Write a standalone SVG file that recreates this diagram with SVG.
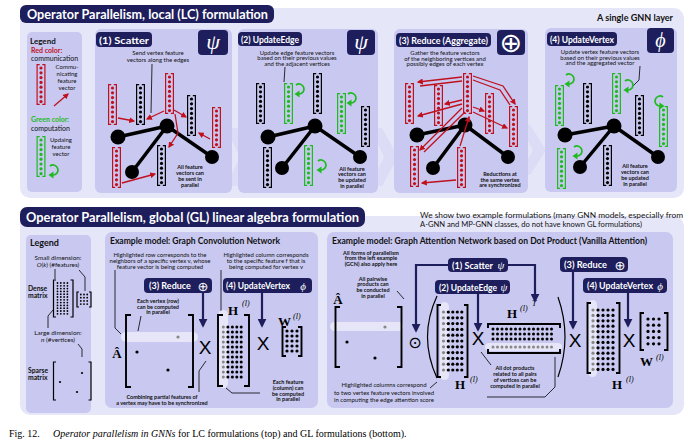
<svg xmlns="http://www.w3.org/2000/svg" width="690" height="447" viewBox="0 0 690 447">
<style>
text{font-family:Lato,"Open Sans","Liberation Sans",sans-serif}
.outer{fill:#e6e6f9}
.panel{fill:#c8c8f0}
.navy{fill:#1e1e5c}
.chev{fill:#dcdcf7}
.ht{font-weight:bold;font-size:13px;fill:#fff}
.lt{font-weight:bold;font-size:9.5px;fill:#fff}
.lt2{font-weight:bold;font-size:9px;fill:#fff}
.d{font-size:6px;fill:#111;text-anchor:middle}
.b{font-size:5.5px;font-weight:bold;fill:#111;text-anchor:middle}
.lg{font-size:6.4px;fill:#111}
.edge{stroke:#000;stroke-width:3.5;stroke-linecap:round}
.ra{fill:none;stroke:#c0101e;stroke-width:1.3;marker-end:url(#ar)}
.rl{fill:none;stroke:#c0101e;stroke-width:1.3}
.ln{fill:none;stroke:#000;stroke-width:0.8}
.na{fill:none;stroke:#1e1e5c;stroke-width:2.2;marker-end:url(#an)}
.br{fill:none;stroke:#000;stroke-width:1.9}
.brs{fill:none;stroke:#000;stroke-width:1.2}
.m{font-family:"Liberation Serif","DejaVu Serif",serif;font-weight:bold;font-size:13px;fill:#000}
.sup{font-family:"Liberation Serif","DejaVu Serif",serif;font-style:italic;font-size:8px;fill:#000}
.X{font-family:"Liberation Sans",sans-serif;font-size:19px;text-anchor:middle;fill:#000}
.hl{fill:#fff;fill-opacity:0.55}
.sym{font-family:"DejaVu Sans",sans-serif;fill:#fff;text-anchor:middle}
.gr{font-family:"Liberation Serif","DejaVu Serif",serif;font-style:italic;fill:#fff;text-anchor:middle}
.cap{font-family:"Liberation Serif",serif;font-size:10px;fill:#000}
</style>
<defs>
<marker id="ar" viewBox="0 0 10 10" refX="8" refY="5" markerWidth="6" markerHeight="6" markerUnits="userSpaceOnUse" orient="auto"><path d="M0,0L10,5L0,10z" fill="#c0101e"/></marker>
<marker id="an" viewBox="0 0 10 10" refX="8" refY="5" markerWidth="9" markerHeight="9" markerUnits="userSpaceOnUse" orient="auto"><path d="M0,0L10,5L0,10z" fill="#1e1e5c"/></marker>
<g id="v"><path d="M3.2,0.6H0.6V40.4H3.2M5.8,0.6H8.4V40.4H5.8" fill="none" stroke="currentColor" stroke-width="1.2"/><g fill="currentColor"><circle cx="4.5" cy="4" r="1.6"/><circle cx="4.5" cy="8.8" r="1.6"/><circle cx="4.5" cy="13.6" r="1.6"/><circle cx="4.5" cy="18.4" r="1.6"/><circle cx="4.5" cy="23.2" r="1.6"/><circle cx="4.5" cy="28" r="1.6"/><circle cx="4.5" cy="32.8" r="1.6"/><circle cx="4.5" cy="37.6" r="1.6"/></g></g>
<g id="loop"><path d="M-3,-4A5,5 0 1 1 0,5" fill="none" stroke="currentColor" stroke-width="1.7"/><path d="M-4.5,5L0.5,1.5V8.5Z" fill="currentColor"/></g>
<g id="c11" fill="currentColor"><circle cy="0" r="1.5"/><circle cy="5" r="1.5"/><circle cy="10" r="1.5"/><circle cy="15" r="1.5"/><circle cy="20" r="1.5"/><circle cy="25" r="1.5"/><circle cy="30" r="1.5"/><circle cy="35" r="1.5"/><circle cy="40" r="1.5"/><circle cy="45" r="1.5"/><circle cy="50" r="1.5"/></g>
<g id="c11b" fill="currentColor"><circle cy="0" r="1.6"/><circle cy="5.8" r="1.6"/><circle cy="11.6" r="1.6"/><circle cy="17.4" r="1.6"/><circle cy="23.2" r="1.6"/><circle cy="29" r="1.6"/><circle cy="34.8" r="1.6"/><circle cy="40.6" r="1.6"/><circle cy="46.4" r="1.6"/><circle cy="52.2" r="1.6"/><circle cy="58" r="1.6"/></g>
<g id="c12" fill="currentColor"><circle cy="0" r="1.6"/><circle cy="5.4" r="1.6"/><circle cy="10.8" r="1.6"/><circle cy="16.2" r="1.6"/><circle cy="21.6" r="1.6"/><circle cy="27" r="1.6"/><circle cy="32.4" r="1.6"/><circle cy="37.8" r="1.6"/><circle cy="43.2" r="1.6"/><circle cy="48.6" r="1.6"/><circle cy="54" r="1.6"/><circle cy="59.4" r="1.6"/></g>
<g id="c12s" fill="#000"><circle cy="0" r="0.9"/><circle cy="2.8" r="0.9"/><circle cy="5.6" r="0.9"/><circle cy="8.4" r="0.9"/><circle cy="11.2" r="0.9"/><circle cy="14" r="0.9"/><circle cy="16.8" r="0.9"/><circle cy="19.6" r="0.9"/><circle cy="22.4" r="0.9"/><circle cy="25.2" r="0.9"/><circle cy="28" r="0.9"/><circle cy="30.8" r="0.9"/></g>
<g id="c4s" fill="#000"><circle cy="0" r="0.9"/><circle cy="3.2" r="0.9"/><circle cy="6.4" r="0.9"/><circle cy="9.6" r="0.9"/></g>
<g id="c5" fill="#000"><circle cy="0" r="1.6"/><circle cy="5" r="1.6"/><circle cy="10" r="1.6"/><circle cy="15" r="1.6"/><circle cy="20" r="1.6"/></g>
<g id="c5b" fill="#000"><circle cy="0" r="1.6"/><circle cy="6.2" r="1.6"/><circle cy="12.4" r="1.6"/><circle cy="18.6" r="1.6"/><circle cy="24.8" r="1.6"/></g>
<g id="r14" fill="currentColor"><circle cx="0" r="1.5"/><circle cx="4.5" r="1.5"/><circle cx="9" r="1.5"/><circle cx="13.5" r="1.5"/><circle cx="18" r="1.5"/><circle cx="22.5" r="1.5"/><circle cx="27" r="1.5"/><circle cx="31.5" r="1.5"/><circle cx="36" r="1.5"/><circle cx="40.5" r="1.5"/><circle cx="45" r="1.5"/><circle cx="49.5" r="1.5"/><circle cx="54" r="1.5"/><circle cx="58.5" r="1.5"/></g>
</defs>

<!-- ===== TOP SECTION ===== -->
<g id="top-section">
<rect class="outer" x="20" y="8" width="664" height="190" rx="10"/>
<rect class="navy" x="20" y="5" width="254" height="18" rx="6"/>
<text class="ht" x="27" y="19" textLength="241" lengthAdjust="spacingAndGlyphs">Operator Parallelism, local (LC) formulation</text>
<text x="673" y="21" font-size="8.5" font-weight="bold" fill="#111" text-anchor="end" textLength="76" lengthAdjust="spacingAndGlyphs">A single GNN layer</text>
</g>

<g id="legend-lc">
<rect class="panel" x="27" y="32" width="55" height="160" rx="5"/>
<text x="30" y="44" font-size="8" font-weight="bold" fill="#111">Legend</text>
<text x="31" y="53" font-size="7" font-weight="bold" fill="#c0101e">Red color:</text>
<text x="31" y="60.5" font-size="7" fill="#111">communication</text>
<use href="#v" x="36.5" y="64" color="#c0101e"/>
<text class="d" x="67" y="69">Commu-</text>
<text class="d" x="67" y="76">nicating</text>
<text class="d" x="67" y="83">feature</text>
<text class="d" x="67" y="90">vector</text>
<path class="ra" d="M54,106L68,94"/>
<text x="31" y="122" font-size="7" font-weight="bold" fill="#1fba1f">Green color:</text>
<text x="31" y="130.5" font-size="7" fill="#111">computation</text>
<use href="#v" x="36.5" y="136" color="#1fba1f"/>
<text class="d" x="61" y="142">Updaing</text>
<text class="d" x="61" y="149">feature</text>
<text class="d" x="61" y="156">vector</text>
<use href="#loop" x="53" y="170" color="#1fba1f"/>
</g>

<g id="chevrons">
<polygon class="chev" points="226,128 238,128 254,157 238,186 226,186 240,157"/>
<polygon class="chev" points="370,128 382,128 398,157 382,186 370,186 384,157"/>
<polygon class="chev" points="519,125 530,125 546,150 530,175 519,175 533,150"/>
</g>

<!-- Panel 1 Scatter -->
<g id="p1-scatter">
<rect class="panel" x="95" y="29" width="137" height="164" rx="6"/>
<rect class="navy" x="96" y="32" width="56" height="15" rx="4"/>
<text class="lt" x="99" y="43.5" textLength="50" lengthAdjust="spacingAndGlyphs">(1) Scatter</text>
<rect class="navy" x="198" y="30" width="30" height="25" rx="4"/>
<text class="gr" x="213" y="49" font-size="22">ψ</text>
<text class="d" x="158" y="55.3">Send vertex feature</text>
<text class="d" x="158" y="61.5">vectors along the edges</text>
<path class="ln" d="M152,64L151,113"/>
<line class="edge" x1="118" y1="137" x2="167" y2="126"/>
<line class="edge" x1="167" y1="126" x2="132" y2="172"/>
<line class="edge" x1="167" y1="126" x2="212" y2="157"/>
<circle cx="118" cy="137" r="7.5"/><circle cx="167" cy="126" r="7.5"/><circle cx="132" cy="172" r="7"/><circle cx="212" cy="157" r="7"/>
<use href="#v" x="108" y="84" color="#c0101e"/>
<use href="#v" x="136" y="84" color="#000"/>
<use href="#v" x="165" y="73" color="#c0101e"/>
<use href="#v" x="187" y="95" color="#000"/>
<use href="#v" x="212" y="107" color="#c0101e"/>
<use href="#v" x="112" y="147" color="#c0101e"/>
<use href="#v" x="157" y="145" color="#000"/>
<path class="ra" d="M118,118L134,121"/>
<path class="ra" d="M164,111L147,119"/>
<path class="ra" d="M174,110L186,117"/>
<path class="ra" d="M175,114L178,133L169,147"/>
<path class="ra" d="M210,139L199,133"/>
<path class="ra" d="M122,183L155,174"/>
<text class="b" x="190" y="168.8">All feature</text>
<text class="b" x="190" y="174.8">vectors can</text>
<text class="b" x="190" y="180.8">be sent in</text>
<text class="b" x="190" y="186.8">parallel</text>
</g>

<!-- Panel 2 UpdateEdge -->
<g id="p2-updateedge">
<rect class="panel" x="238" y="29" width="140" height="164" rx="6"/>
<rect class="navy" x="238" y="32" width="64" height="14" rx="4"/>
<text class="lt" x="241" y="43" textLength="58" lengthAdjust="spacingAndGlyphs">(2) UpdateEdge</text>
<rect class="navy" x="347" y="30" width="28" height="25" rx="4"/>
<text class="gr" x="361" y="49" font-size="22">ψ</text>
<text class="d" x="297" y="54.5">Update edge feature vectors</text>
<text class="d" x="297" y="60">based on their previous values</text>
<text class="d" x="297" y="65.5">and the adjacent vertices</text>
<path class="ln" d="M285,67L284,82"/>
<line class="edge" x1="268" y1="137" x2="315" y2="126"/>
<line class="edge" x1="315" y1="126" x2="282" y2="168"/>
<line class="edge" x1="315" y1="126" x2="360" y2="157"/>
<circle cx="268" cy="137" r="7.5"/><circle cx="315" cy="126" r="7.5"/><circle cx="282" cy="168" r="7"/><circle cx="360" cy="157" r="7"/>
<use href="#v" x="256" y="83" color="#000"/>
<use href="#v" x="284" y="83" color="#1fba1f"/>
<use href="#v" x="313" y="73" color="#000"/>
<use href="#v" x="337" y="93" color="#1fba1f"/>
<use href="#v" x="361" y="106" color="#000"/>
<use href="#v" x="263" y="147" color="#000"/>
<use href="#v" x="304" y="145" color="#1fba1f"/>
<use href="#loop" x="299" y="89" color="#1fba1f"/>
<use href="#loop" x="351" y="98" color="#1fba1f"/>
<use href="#loop" x="321" y="165" color="#1fba1f"/>
<text class="b" x="352" y="170.5">All feature</text>
<text class="b" x="352" y="176.3">vectors can</text>
<text class="b" x="352" y="182.1">be updated</text>
<text class="b" x="352" y="188">in parallel</text>
</g>

<!-- Panel 3 Reduce -->
<g id="p3-reduce">
<rect class="panel" x="394" y="29" width="134" height="164" rx="6"/>
<rect class="navy" x="396" y="33" width="95" height="14" rx="4"/>
<text class="lt" x="399" y="44" textLength="89" lengthAdjust="spacingAndGlyphs">(3) Reduce (Aggregate)</text>
<rect class="navy" x="497" y="30" width="28" height="25" rx="4"/>
<text class="sym" x="511" y="51.5" font-size="27">⊕</text>
<text class="d" x="445" y="55">Gather the feature vectors</text>
<text class="d" x="445" y="60.5">of the neighboring vertices and</text>
<text class="d" x="445" y="66">possibly edges of each vertex</text>
<line class="edge" x1="417" y1="135" x2="465" y2="125"/>
<line class="edge" x1="465" y1="125" x2="433" y2="168"/>
<line class="edge" x1="465" y1="125" x2="508" y2="157"/>
<circle cx="417" cy="135" r="7.5"/><circle cx="465" cy="125" r="7.5"/><circle cx="433" cy="168" r="7"/><circle cx="508" cy="157" r="7"/>
<use href="#v" x="405" y="83" color="#c0101e"/>
<use href="#v" x="434" y="85" color="#c0101e"/>
<use href="#v" x="463" y="73" color="#c0101e"/>
<use href="#v" x="485" y="93" color="#c0101e"/>
<use href="#v" x="509" y="106" color="#c0101e"/>
<use href="#v" x="410" y="146" color="#c0101e"/>
<use href="#v" x="457" y="147" color="#c0101e"/>
<path class="ra" d="M462,77L418,82"/>
<path class="rl" d="M462,81L420,86"/>
<path class="ra" d="M473,76L503,86L515,104"/>
<path class="rl" d="M473,80L500,90L510,105"/>
<path class="ra" d="M462,100L445,104"/>
<path class="ra" d="M462,104L418,116"/>
<path class="ra" d="M462,108L420,150"/>
<path class="rl" d="M465,112L424,152"/>
<path class="ra" d="M473,107L484,111"/>
<path class="ra" d="M473,112L507,128"/>
<path class="ra" d="M460,146L469,117"/>
<path class="ra" d="M456,180L422,183"/>
<text class="b" x="500" y="176">Reductions at</text>
<text class="b" x="500" y="181.5">the same vertex</text>
<text class="b" x="500" y="187">are synchronized</text>
</g>

<!-- Panel 4 UpdateVertex -->
<g id="p4-updatevertex">
<rect class="panel" x="545" y="28" width="132" height="164" rx="6"/>
<rect class="navy" x="547" y="32" width="70" height="14" rx="4"/>
<text class="lt" x="550" y="43" textLength="64" lengthAdjust="spacingAndGlyphs">(4) UpdateVertex</text>
<rect class="navy" x="647" y="28" width="27" height="25" rx="4"/>
<text class="gr" x="660.5" y="47" font-size="20">ϕ</text>
<text class="d" x="600" y="54">Update vertex feature vectors</text>
<text class="d" x="600" y="59.5">based on their previous values</text>
<text class="d" x="600" y="65">and the aggregated vector</text>
<path class="ln" d="M640,66L639,80L633,86"/>
<line class="edge" x1="565" y1="135" x2="614" y2="126"/>
<line class="edge" x1="614" y1="126" x2="580" y2="167"/>
<line class="edge" x1="614" y1="126" x2="658" y2="157"/>
<circle cx="565" cy="135" r="7.5"/><circle cx="614" cy="126" r="7.5"/><circle cx="580" cy="167" r="7"/><circle cx="658" cy="157" r="7"/>
<use href="#v" x="555" y="85" color="#1fba1f"/>
<use href="#v" x="583" y="83" color="#000"/>
<use href="#v" x="612" y="73" color="#1fba1f"/>
<use href="#v" x="635" y="95" color="#000"/>
<use href="#v" x="659" y="106" color="#1fba1f"/>
<use href="#v" x="557" y="148" color="#1fba1f"/>
<use href="#v" x="603" y="145" color="#000"/>
<use href="#loop" x="569" y="79" color="#1fba1f"/>
<use href="#loop" x="628" y="85" color="#1fba1f"/>
<use href="#loop" transform="translate(660,101) scale(-1,1)" color="#1fba1f"/>
<use href="#loop" x="577" y="151" color="#1fba1f"/>
<text class="b" x="635" y="168">All feature</text>
<text class="b" x="635" y="174">vectors can</text>
<text class="b" x="635" y="180">be updated</text>
<text class="b" x="635" y="186">in parallel</text>
</g>

<!-- ===== BOTTOM SECTION ===== -->
<g id="bottom-section">
<rect class="outer" x="20" y="216" width="664" height="199" rx="10"/>
<rect class="navy" x="20" y="207" width="345" height="20" rx="7"/>
<text class="ht" x="26" y="221.5" textLength="333" lengthAdjust="spacingAndGlyphs">Operator Parallelism, global (GL) linear algebra formulation</text>
<text x="420" y="218" font-size="7.3" fill="#111" textLength="263" lengthAdjust="spacingAndGlyphs">We show two example formulations (many GNN models, especially from</text>
<text x="420" y="226.5" font-size="7.3" fill="#111" textLength="222" lengthAdjust="spacingAndGlyphs">A-GNN and MP-GNN classes, do not have known GL formulations)</text>
</g>

<g id="legend-gl">
<rect class="panel" x="26" y="235" width="65" height="178" rx="5"/>
<text x="30" y="246" font-size="9" font-weight="bold" fill="#111">Legend</text>
<text class="lg" x="58" y="260" text-anchor="middle">Small dimension:</text>
<text class="lg" x="58" y="266.5" text-anchor="middle"><tspan font-style="italic">O</tspan>(<tspan font-style="italic">k</tspan>) (#features)</text>
<path class="ln" d="M55,269V279"/>
<path class="ln" d="M79,270L85,277V291"/>
<path class="brs" d="M56,280H53.5V317H56M70.5,280H73V317H70.5"/>
<use href="#c12s" x="57.5" y="283"/><use href="#c12s" x="60.8" y="283"/><use href="#c12s" x="64.1" y="283"/><use href="#c12s" x="67.4" y="283"/>
<path class="brs" d="M79,292H77V307H79M89,292H91V307H89"/>
<use href="#c4s" x="80.8" y="294.5"/><use href="#c4s" x="84" y="294.5"/><use href="#c4s" x="87.2" y="294.5"/>
<text x="28" y="290.5" font-size="6.8" font-weight="bold" fill="#111">Dense</text>
<text x="28" y="297.5" font-size="6.8" font-weight="bold" fill="#111">matrix</text>
<path class="ln" d="M53,310L48,316V328"/>
<text class="lg" x="58" y="335" text-anchor="middle">Large dimension:</text>
<text class="lg" x="58" y="341.5" text-anchor="middle"><tspan font-style="italic">n</tspan> (#vertices)</text>
<path class="ln" d="M78,344L82,349V357"/>
<path class="brs" d="M56,362H53.5V400H56M88.5,362H91V400H88.5" stroke-width="1.4"/>
<circle cx="82" cy="373" r="1.1"/><circle cx="60" cy="382" r="1.1"/><circle cx="77" cy="392" r="1.1"/>
<text x="28" y="372.5" font-size="6.8" font-weight="bold" fill="#111">Sparse</text>
<text x="28" y="379.5" font-size="6.8" font-weight="bold" fill="#111">matrix</text>
</g>

<!-- GCN -->
<g id="gcn">
<rect class="panel" x="105" y="232" width="213" height="176" rx="7"/>
<text x="110" y="243.5" font-size="8.5" font-weight="bold" fill="#111" textLength="170" lengthAdjust="spacingAndGlyphs">Example model: Graph Convolution Network</text>
<text class="d" x="160" y="256.5">Highlighted row corresponds to the</text>
<text class="d" x="160" y="262.5">neighbors of a specific vertex v, whose</text>
<text class="d" x="160" y="268.5">feature vector is being computed</text>
<text class="d" x="266" y="257">Highlighted column corresponds</text>
<text class="d" x="266" y="262.8">to the specific feature f that is</text>
<text class="d" x="266" y="268.5">being computed for vertex v</text>
<path class="ln" d="M115,270V328L121,334"/>
<path class="ln" d="M221,270V311"/>
<rect class="navy" x="144" y="278" width="68" height="15" rx="4"/>
<text class="lt2" x="149" y="289">(3) Reduce</text>
<text class="sym" x="203" y="290.5" font-size="13">⊕</text>
<rect class="navy" x="223" y="278" width="89" height="15" rx="4"/>
<text class="lt2" x="226" y="289" textLength="64" lengthAdjust="spacingAndGlyphs">(4) UpdateVertex</text>
<text class="gr" x="303" y="289.5" font-size="11">ϕ</text>
<path class="na" d="M203,293V326"/>
<path class="na" d="M262,293V326"/>
<text class="b" x="158" y="303">Each vertex (row)</text>
<text class="b" x="158" y="308.7">can be computed</text>
<text class="b" x="158" y="314.4">in parallel</text>
<path class="ln" d="M141,316L138,331"/>
<text class="m" x="117" y="358" text-anchor="middle">Â</text>
<rect class="hl" x="121" y="332" width="77" height="10" rx="5"/>
<path class="br" d="M131,315H126V387H131M188,315H193V387H188"/>
<circle cx="178" cy="337" r="1.6" fill="#888"/>
<circle cx="137" cy="352" r="1.6"/>
<circle cx="168" cy="370" r="1.6"/>
<text class="X" x="205" y="354">X</text>
<path class="ln" d="M206,361L199,371V392"/>
<text class="b" x="162" y="399">Combining partial features of</text>
<text class="b" x="162" y="404.7">a vertex may have to be synchronized</text>
<text class="m" x="228" y="315">H</text><text class="sup" x="242" y="306">(l)</text>
<rect class="hl" x="218.5" y="310" width="9.5" height="78" rx="4.5"/>
<path class="br" d="M223,315H218V386H223M244,315H249V386H244"/>
<use href="#c11" x="223.3" y="327" color="#888"/>
<use href="#c11" x="227.9" y="327" color="#000"/>
<use href="#c11" x="232.4" y="327" color="#000"/>
<use href="#c11" x="236.8" y="327" color="#000"/>
<use href="#c11" x="241.2" y="327" color="#000"/>
<path class="ln" d="M226,388L232,393H260"/>
<text class="X" x="263" y="350">X</text>
<text class="m" x="278" y="326" font-size="12">W</text><text class="sup" x="293" y="319">(l)</text>
<path class="br" d="M286,327H282.5V356H286M298,327H301.5V356H298"/>
<use href="#c5" x="287" y="331"/><use href="#c5" x="292" y="331"/><use href="#c5" x="297" y="331"/>
<text class="b" x="288" y="384">Each feature</text>
<text class="b" x="288" y="389.8">(column) can</text>
<text class="b" x="288" y="395.6">be computed</text>
<text class="b" x="288" y="401.4">in parallel</text>
</g>

<!-- GAT -->
<g id="gat">
<rect class="panel" x="327" y="232" width="346" height="176" rx="7"/>
<text x="332" y="243.5" font-size="8.5" font-weight="bold" fill="#111" textLength="315" lengthAdjust="spacingAndGlyphs">Example model: Graph Attention Network based on Dot Product (Vanilla Attention)</text>
<text class="b" x="371" y="254.5">All forms of parallelism</text>
<text class="b" x="371" y="260.2">from the left example</text>
<text class="b" x="371" y="265.9">(GCN) also apply here</text>
<text class="b" x="373" y="280.5">All pairwise</text>
<text class="b" x="373" y="286.2">products can</text>
<text class="b" x="373" y="291.9">be conducted</text>
<text class="b" x="373" y="297.6">in parallel</text>
<path class="ln" d="M397,291L404,299"/>
<text class="m" x="338" y="304" text-anchor="middle">Â</text>
<rect class="hl" x="330" y="322" width="73" height="9" rx="4.5"/>
<path class="br" d="M340,307H335.5V367H340M397,307H401.5V367H397"/>
<circle cx="385" cy="327" r="1.6" fill="#888"/>
<circle cx="347" cy="342" r="1.6"/>
<circle cx="375" cy="358" r="1.6"/>
<text class="sym" x="415" y="347.5" font-size="16" style="fill:#000">⊙</text>
<path fill="none" stroke="#000" stroke-width="1.2" d="M437,296Q418,337 437,378"/>
<path fill="none" stroke="#000" stroke-width="1.2" d="M558,297Q572,337 558,377"/>
<rect class="hl" x="440" y="302" width="9" height="78" rx="4.5"/>
<path class="br" d="M441,305H437.5V377H441M464,305H467.5V377H464"/>
<use href="#c11b" x="443.5" y="312" color="#888"/>
<use href="#c11b" x="448.3" y="312" color="#000"/>
<use href="#c11b" x="452.8" y="312" color="#000"/>
<use href="#c11b" x="457.3" y="312" color="#000"/>
<use href="#c11b" x="461.8" y="312" color="#000"/>
<text class="m" x="455" y="389">H</text><text class="sup" x="470" y="382">(l)</text>
<text class="X" x="478" y="345">X</text>
<text class="m" x="507" y="318">H</text><text class="sup" x="520" y="311">(l)</text><text class="sup" x="532" y="306" font-size="8">T</text>
<rect class="hl" x="485" y="343" width="77" height="8" rx="4"/>
<path class="br" d="M488,328V324H560V328M488,349V353H560V349"/>
<use href="#r14" x="493" y="329" color="#000"/>
<use href="#r14" x="493" y="334" color="#000"/>
<use href="#r14" x="493" y="339" color="#000"/>
<use href="#r14" x="493" y="347" color="#888"/>
<path class="ln" d="M481,352L491,365"/>
<path class="ln" d="M487,397H545L555,387V357"/>
<text class="b" x="515" y="370">All dot products</text>
<text class="b" x="515" y="376">related to all pairs</text>
<text class="b" x="515" y="382">of vertices can be</text>
<text class="b" x="515" y="388">computed in parallel</text>
<text class="d" x="384" y="387">Highlighted columns correspond</text>
<text class="d" x="384" y="394.5">to two vertex feature vectors involved</text>
<text class="d" x="384" y="402">in computing the edge attention score</text>
<path class="ln" d="M430,388L437,382"/>
<rect class="navy" x="448" y="258" width="60" height="14" rx="4"/>
<text class="lt2" x="452" y="268.5" textLength="41" lengthAdjust="spacingAndGlyphs">(1) Scatter</text>
<text class="gr" x="501" y="269" font-size="11">ψ</text>
<rect class="navy" x="435" y="280" width="75" height="14" rx="4"/>
<text class="lt2" x="439" y="290.5" textLength="58" lengthAdjust="spacingAndGlyphs">(2) UpdateEdge</text>
<text class="gr" x="504" y="291" font-size="11">ψ</text>
<path class="na" d="M448,265H416V331"/>
<path class="na" d="M508,265H535V301"/>
<path class="na" d="M478,294V330"/>
<rect class="navy" x="560" y="257" width="68" height="15" rx="4"/>
<text class="lt2" x="564" y="268" textLength="43" lengthAdjust="spacingAndGlyphs">(3) Reduce</text>
<text class="sym" x="620" y="269.5" font-size="13">⊕</text>
<rect class="navy" x="583" y="278" width="84" height="15" rx="4"/>
<text class="lt2" x="587" y="289" textLength="66" lengthAdjust="spacingAndGlyphs">(4) UpdateVertex</text>
<text class="gr" x="660" y="289.5" font-size="11">ϕ</text>
<path class="na" d="M573,272V328"/>
<path class="na" d="M628,293V326"/>
<text class="X" x="575" y="347">X</text>
<rect class="hl" x="588" y="300" width="9" height="77" rx="4.5"/>
<path class="br" d="M591,303H587.5V373H591M616,303H619.5V373H616"/>
<use href="#c12" x="593" y="310" color="#888"/>
<use href="#c12" x="598" y="310" color="#000"/>
<use href="#c12" x="603" y="310" color="#000"/>
<use href="#c12" x="608" y="310" color="#000"/>
<use href="#c12" x="613" y="310" color="#000"/>
<text class="m" x="612" y="389">H</text><text class="sup" x="626" y="382">(l)</text>
<text class="X" x="629" y="347">X</text>
<path class="br" d="M644,313H640.5V350H644M664,313H667.5V350H664"/>
<use href="#c5b" x="648" y="319"/><use href="#c5b" x="653.5" y="319"/><use href="#c5b" x="659" y="319"/>
<text class="m" x="640" y="366" font-size="12">W</text><text class="sup" x="656" y="360">(l)</text>
</g>

<g id="caption">
<text class="cap" x="9" y="437">Fig. 12.<tspan x="53" font-style="italic">Operator parallelism in GNNs</tspan> for LC formulations (top) and GL formulations (bottom).</text>
</g>
</svg>
